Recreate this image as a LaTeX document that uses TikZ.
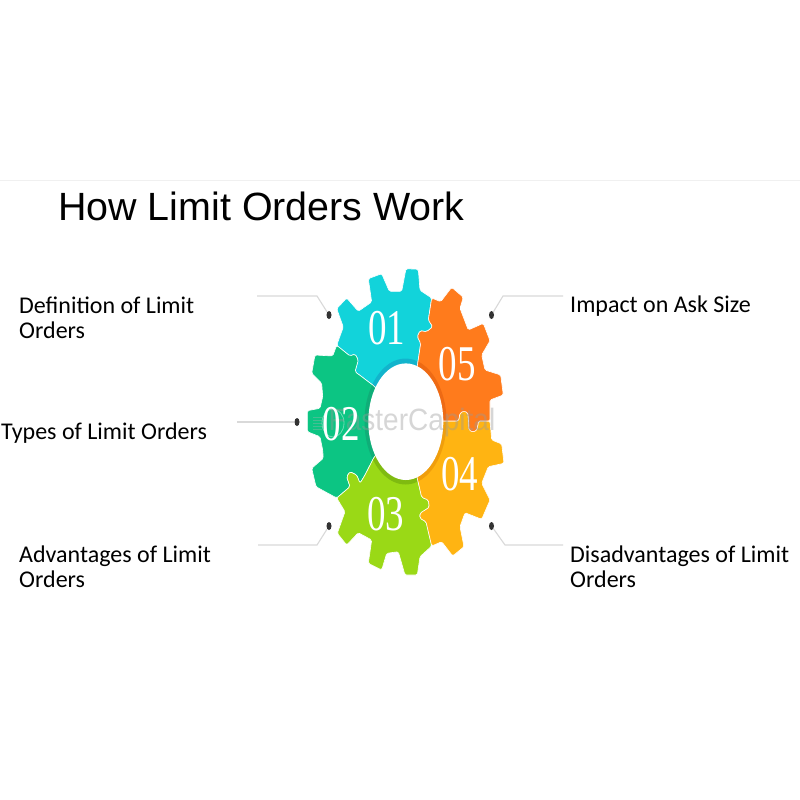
\documentclass[tikz,border=0pt]{standalone}
\usepackage{fontspec}
\setmainfont{Carlito}
\newfontfamily\titlefont{Liberation Sans}
\newfontfamily\numfont{Liberation Serif}
\usetikzlibrary{shapes.geometric}
\definecolor{cyanpart}{HTML}{12D3DA}
\definecolor{cyandark}{HTML}{12B4CC}
\definecolor{greenpart}{HTML}{0CC583}
\definecolor{greendark}{HTML}{0FAE78}
\definecolor{limepart}{HTML}{9AD916}
\definecolor{limedark}{HTML}{7FBB10}
\definecolor{amberpart}{HTML}{FFB412}
\definecolor{amberdark}{HTML}{F09E0C}
\definecolor{orangepart}{HTML}{FF7B1C}
\definecolor{orangedark}{HTML}{EE6A14}
\tikzset{dot/.style={ellipse, fill=black!80, inner sep=0pt, minimum width=5pt, minimum height=8pt}}
\tikzset{leader/.style={draw=black!15, line width=1.1pt}}
\tikzset{lab/.style={anchor=west, align=left, inner sep=0pt, font=\fontsize{24}{24.6}\selectfont}}
\tikzset{num/.style={text=white, xscale=.74, font=\numfont\fontsize{50}{50}\selectfont}}
\tikzset{part/.style={rounded corners=1.5pt}}
\newcommand{\gearone}{(405.5,421.5) -- (374,386) -- (361.7,376.7) -- (355,371.7) -- (358.3,360) -- (355,354) -- (350,356) -- (336.7,345.3) -- (343.3,327) -- (336.7,308.7) -- (346.7,298) -- (358.3,311.3) -- (371.7,302) -- (368.3,278.7) -- (381.7,273.7) -- (389.3,291.3) -- (401.7,291.3) -- (406,268.7) -- (418.3,269.3) -- (420,290.3) -- (431.7,298) -- (428.3,320) -- (432.7,326.7) -- (426.7,331.7) -- (420,330.7) -- (417.3,336.7) -- (420.7,343.3) -- (417.3,366) -- cycle}
\newcommand{\geartwo}{(405.5,421.5) -- (374,386) -- (361.7,376.7) -- (355,371.7) -- (358.3,360) -- (355,354) -- (350,356) -- (336.7,345.3) -- (332.7,356) -- (315,355) -- (311.7,373.3) -- (321.7,383.3) -- (322.7,396.7) -- (320,408.3) -- (307.3,410.7) -- (307.3,431.7) -- (320,436.7) -- (322.7,450) -- (323.3,458.3) -- (311.7,468.3) -- (316,486.7) -- (336.7,498) -- (350,486.7) -- (346.7,476.7) -- (350,471.7) -- (356.7,475) -- (360,483.3) -- (365,475) -- (374,457.3) -- cycle}
\newcommand{\gearthree}{(405.5,421.5) -- (374,457.3) -- (365,475) -- (360,483.3) -- (356.7,475) -- (350,471.7) -- (346.7,476.7) -- (350,486.7) -- (336.7,498) -- (345,511.7) -- (337.3,533.3) -- (346.7,545) -- (358.3,532.7) -- (371.7,540) -- (368.3,563.3) -- (381.7,570) -- (386.7,553.3) -- (398.3,551.7) -- (405,575) -- (417.3,575) -- (420,556.7) -- (431.7,546) -- (426,521.7) -- (420,518.3) -- (420,513.3) -- (429.3,507.3) -- (428.3,500) -- (421.7,497.3) -- (417.3,478.3) -- cycle}
\newcommand{\gearfour}{(405.5,421.5) -- (417.3,478.3) -- (421.7,497.3) -- (428.3,500) -- (429.3,507.3) -- (420,513.3) -- (420,518.3) -- (426,521.7) -- (431.7,546) -- (441.7,541.7) -- (452.7,556) -- (464,546.7) -- (460,526.7) -- (465,512.7) -- (481.7,519.3) -- (490,500) -- (481.7,483.3) -- (488.3,466.7) -- (504,463.3) -- (501.7,444) -- (491.7,440) -- (490,421) -- (478.5,421) -- (477,430) -- (473,432) -- (469,430) -- (468.5,421) -- (468,413) -- (464,411) -- (460,413) -- (458.5,421) -- (443,421) -- cycle}
\newcommand{\gearfive}{(405.5,421.5) -- (417.3,366) -- (420.7,343.3) -- (417.3,336.7) -- (420,330.7) -- (426.7,331.7) -- (432.7,326.7) -- (428.3,320) -- (431.7,298) -- (440.7,301.7) -- (451.7,287.3) -- (463.3,297.3) -- (460,308.3) -- (468.3,330) -- (483.3,323.3) -- (490,340.7) -- (481.7,355) -- (485,370) -- (500.7,375) -- (503.3,395) -- (490,400) -- (490,421) -- (478.5,421) -- (477,430) -- (473,432) -- (469,430) -- (468.5,421) -- (468,413) -- (464,411) -- (460,413) -- (458.5,421) -- (443,421) -- cycle}
\begin{document}
\begin{tikzpicture}[x=1pt,y=-1pt]
  \useasboundingbox (0,0) rectangle (800,800);
  \fill[white] (0,0) rectangle (800,800);
  \coordinate (rulea) at (0,180.5);
  \coordinate (ruleb) at (800,180.5);
  \draw[draw=black!6,line width=.8pt] (rulea) -- (ruleb);
  \node[anchor=base west,inner sep=0pt,font=\titlefont\fontsize{39.4}{40}\selectfont] (title) at (58,220) {How Limit Orders Work};
  % the five parts of the gear
  \foreach \shape/\colr/\shade in {
    \gearone/cyanpart/cyandark,
    \geartwo/greenpart/greendark,
    \gearthree/limepart/limedark,
    \gearfour/amberpart/amberdark,
    \gearfive/orangepart/orangedark%
  } {
    \fill[\colr,part] \shape;
    \begin{scope}
      \clip[part] \shape;
      \fill[\shade] (405.5,421.5) ellipse [x radius=41, y radius=63];
    \end{scope}
    \draw[white,line width=.6pt,part] \shape;
  }
  \fill[white] (405.8,421.7) ellipse [x radius=37.5, y radius=58.3];
  % watermark
  \foreach \y in {417,420,423,426,429} {
    \draw[black!30,opacity=.35,line width=.7pt] (313,\y) -- (322,\y);
  }
  \draw[white,opacity=.4,line width=.8pt] (333,423) ellipse [x radius=11, y radius=14];
  \node[opacity=.4,text=black!40,inner sep=0pt,yscale=1.1,font=\titlefont\fontsize{28}{28}\selectfont] (mark) at (412,423) {FasterCapital};
  \foreach \x/\y/\lab/\txt in {
    386.5/328.5/one/01,
    341/424.5/two/02,
    385.5/514.5/three/03,
    459.5/474/four/04,
    457/364.5/five/05%
  } {
    \node[num] (num\lab) at (\x,\y) {\txt};
  }
  \foreach \x/\y/\lab in {
    329/315/one,
    297/422/two,
    329/526/three,
    491.5/526/four,
    491.5/315/five%
  } {
    \node[dot] (dot\lab) at (\x,\y) {};
  }
  \coordinate (endone) at (257,296);
  \coordinate (bendone) at (317,296);
  \coordinate (endtwo) at (237,422);
  \coordinate (endthree) at (258,545);
  \coordinate (bendthree) at (317,545);
  \coordinate (endfour) at (563,545);
  \coordinate (bendfour) at (505,545);
  \coordinate (endfive) at (563,296);
  \coordinate (bendfive) at (503,296);
  \draw[leader] (endone) -- (bendone) -- (dotone);
  \draw[leader] (endtwo) -- (dottwo);
  \draw[leader] (endthree) -- (bendthree) -- (dotthree);
  \draw[leader] (endfour) -- (bendfour) -- (dotfour);
  \draw[leader] (endfive) -- (bendfive) -- (dotfive);
  \node[lab] (labone) at (19,318) {Definition of Limit\\Orders};
  \node[lab] (labtwo) at (1,433) {Types of Limit Orders};
  \node[lab] (labthree) at (19,567) {Advantages of Limit\\Orders};
  \node[lab] (labfour) at (570,567) {Disadvantages of Limit\\Orders};
  \node[lab] (labfive) at (570,306) {Impact on Ask Size};
\end{tikzpicture}
\end{document}
